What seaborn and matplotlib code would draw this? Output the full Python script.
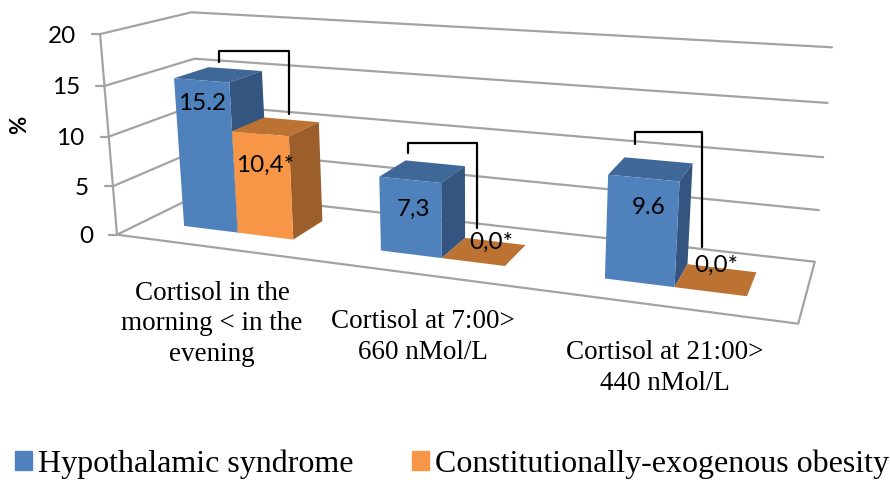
import numpy as np
import pandas as pd
import matplotlib
matplotlib.use('Agg')
import matplotlib.pyplot as plt
import seaborn as sns
from matplotlib.patches import Patch
from matplotlib.transforms import Transform

# values
categories = ['Cortisol in the\nmorning < in the\nevening', 'Cortisol at 7:00>\n660 nMol/L', 'Cortisol at 21:00>\n440 nMol/L']
series = ['Hypothalamic syndrome', 'Constitutionally-exogenous obesity']
hypothalamic = [15.2, 7.3, 9.6]
exogenous = [10.4, 0.0, 0.0]
hypothalamic_labels = ['15.2', '7,3', '9.6']
exogenous_labels = ['10,4*', '0,0*', '0,0*']
y_ticks = [0, 5, 10, 15, 20]

# colours: front, top, side
blue = ['#4F81BD', '#3F6797', '#335580']
orange = ['#F79646', '#BC7233', '#9C5F2C']
wall_color = '#A3A3A3'

# the Excel 3D box: (category pos, value, depth) -> pixel of its corners
box_world = np.array([(0, 0, 0), (0, 20, 0), (0, 10, 0), (0, 0, 1), (0, 20, 1), (0, 15, 1),
                      (3, 0, 0), (3, 0, 1), (3, 20, 1), (3, 10, 1), (3, 5, 1)], float)
box_pixel = np.array([(117, 236), (100, 33), (109, 137), (203, 191), (192, 13), (194, 59),
                      (798, 323), (815, 262), (832, 47), (823, 157), (819, 211)], float)


def fit_camera(world, pixel):
    rows, rhs = [], []
    for (x, y, z), (u, v) in zip(world, pixel):
        rows.append([x, y, z, 1, 0, 0, 0, 0, -u * x, -u * y, -u * z])
        rows.append([0, 0, 0, 0, x, y, z, 1, -v * x, -v * y, -v * z])
        rhs += [u, v]
    p = np.linalg.lstsq(np.array(rows), np.array(rhs), rcond=None)[0]
    return np.append(p, 1).reshape(3, 4)


camera = fit_camera(box_world, box_pixel)


def project(x, y, z):
    x, y, z = np.broadcast_arrays(np.asarray(x, float), np.asarray(y, float), np.asarray(z, float))
    pts = np.stack([x, y, z, np.ones_like(x)], axis=-1) @ camera.T
    return pts[..., 0] / pts[..., 2], pts[..., 1] / pts[..., 2]


class FrontPlane(Transform):
    # seaborn's bar coordinates -> picture, on a plane at a given depth
    input_dims = 2
    output_dims = 2

    def __init__(self, plane_depth):
        super().__init__()
        self.plane_depth = plane_depth

    def transform_non_affine(self, values):
        values = np.asarray(values)
        u, v = project(values[:, 0] + 0.5, values[:, 1], self.plane_depth)
        return np.column_stack([u, v])


sns.set_theme(style='white')
plt.rcParams['font.family'] = ['Lato', 'DejaVu Sans']

fig = plt.figure(figsize=(8.9, 4.8), dpi=100)
ax = fig.add_axes([0, 0, 1, 1])

data = pd.DataFrame({
    'category': categories * 2,
    'series': [series[0]] * 3 + [series[1]] * 3,
    'value': hypothalamic + exogenous,
})

bar_width = 0.57
depth_front, depth_back = 0.3, 0.7

sns.barplot(data=data, x='category', y='value', hue='series', palette=[blue[0], orange[0]],
            width=bar_width, saturation=1, legend=False, ax=ax)

ax.set_xlim(0, 890)
ax.set_ylim(480, 0)
ax.axis('off')

# walls and floor
for tick in y_ticks:
    u, v = project([0, 0, 3], tick, [0, 1, 1])
    ax.plot(u, v, color=wall_color, lw=1.6, zorder=1)
    tu, tv = project(0, tick, 0)
    ax.plot([tu - 8, tu], [tv, tv], color=wall_color, lw=1.6, zorder=1)
    ax.text(tu - 24, tv + 2, str(tick), ha='right', va='center', fontsize=17.5, color='black')

u, v = project([0, 0], [0, 20], 0)
ax.plot(u, v, color=wall_color, lw=1.6, zorder=1)
u, v = project([0, 3, 3], 0, [0, 0, 1])
ax.plot(u, v, color=wall_color, lw=1.6, zorder=1)

# bars: seaborn drew the fronts, the top and side faces follow from them
for i, patch in enumerate(ax.patches):
    colors = blue if i < 3 else orange
    base_z = 4 if i < 3 else 6
    patch.set_transform(FrontPlane(depth_front) + ax.transData)
    patch.set_linewidth(0)
    patch.set_zorder(base_z)
    left, right, height = patch.get_x() + 0.5, patch.get_x() + patch.get_width() + 0.5, patch.get_height()
    u, v = project([left, right, right, left], height, [depth_front, depth_front, depth_back, depth_back])
    ax.fill(u, v, color=colors[1], lw=0, zorder=base_z - 1)
    u, v = project(right, [0, height, height, 0], [depth_front, depth_front, depth_back, depth_back])
    ax.fill(u, v, color=colors[2], lw=0, zorder=base_z - 1)

# value labels
label_pos = [(202, 103), (413, 209), (649, 208), (265, 165), (491, 242), (716, 265)]
for text, (x, y) in zip(hypothalamic_labels + exogenous_labels, label_pos):
    ax.text(x, y, text, ha='center', va='center', fontsize=17.5, color='black', zorder=10)

# significance brackets
brackets = [([219, 219, 289, 289], [62, 51, 51, 114]),
            ([408, 408, 477, 477], [153, 143, 143, 228]),
            ([635, 635, 702, 702], [144, 132, 132, 247])]
for bx, by in brackets:
    ax.plot(bx, by, color='black', lw=1.6, zorder=2)

ax.text(20, 125, '%', rotation=90, ha='center', va='center', fontsize=16, fontweight='bold', color='black')

# category labels in serif
label_xy = [(212, 324), (423, 337), (665, 368)]
for text, (x, y) in zip(categories, label_xy):
    ax.text(x, y, text, ha='center', va='center', fontsize=19.5, family='Liberation Serif',
            linespacing=1.29, color='black')

handles = [Patch(color=blue[0], label=series[0]), Patch(color=orange[0], label=series[1])]
fig.legend(handles=handles, loc='lower left', bbox_to_anchor=(15 / 890, 1 / 480), ncol=2, frameon=False,
           prop={'family': 'Liberation Serif', 'size': 23}, handlelength=0.53, handleheight=0.53,
           handletextpad=0.19, columnspacing=1.84, borderpad=0, borderaxespad=0, labelcolor='black')

fig.savefig('out.png', dpi=100)
